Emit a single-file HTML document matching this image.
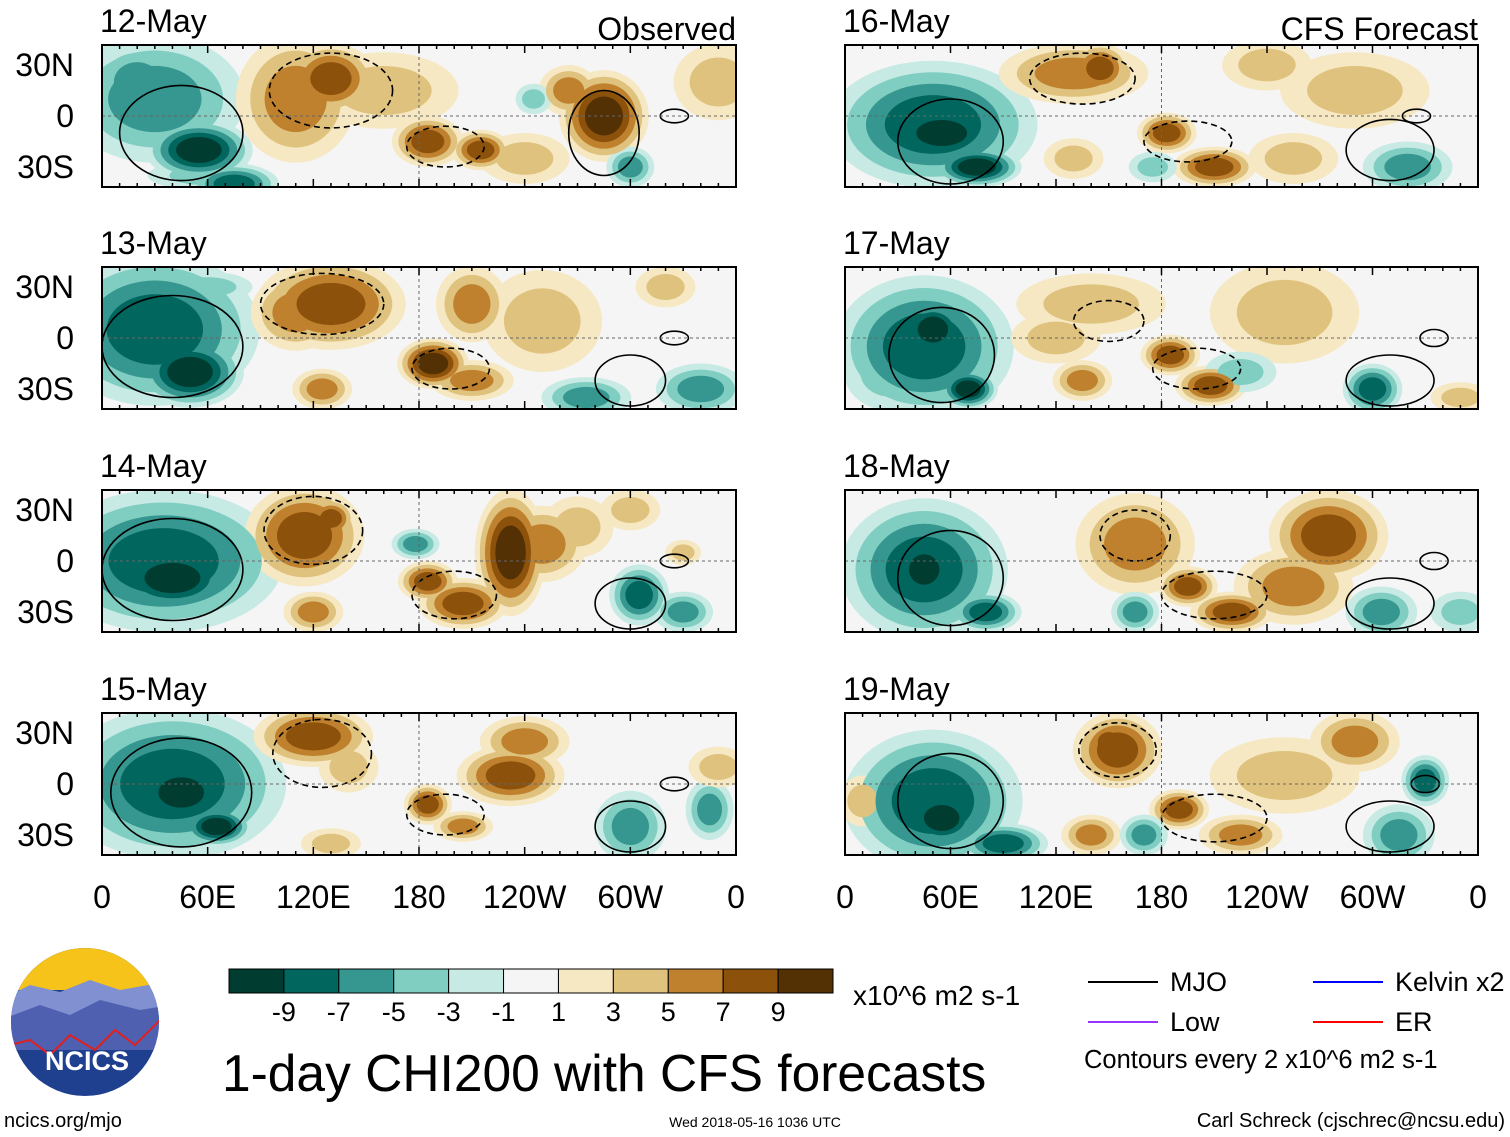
<!DOCTYPE html>
<html><head><meta charset="utf-8"><style>
body{margin:0;background:#fff;width:1510px;height:1137px;overflow:hidden;font-family:"Liberation Sans",Arial,sans-serif}
svg{position:absolute;left:0;top:0}
</style></head><body>
<svg id="chart" width="1510" height="1137" font-family="Liberation Sans, Arial, sans-serif"></svg>
<script>
const dates=["12-May","13-May","14-May","15-May","16-May","17-May","18-May","19-May"];
const levelTicks=[-9,-7,-5,-3,-1,1,3,5,7,9];
const colors=["#003c30","#01665e","#35978f","#80cdc1","#c7eae5","#f5f5f5","#f6e8c3","#dfc27d","#bf812d","#8c510a","#543005"];
const lonTicks=["0","60E","120E","180","120W","60W","0"];
const latTicks=["30N","0","30S"];
const latVals=[30,0,-30];
// blobs: [lon, lat, value, rxDeg, ryDeg]
const blobs0=[[30,10,-5,30,25],[55,-20,-9,18,12],[20,20,-5,15,15],[75,-40,-6,15,8],[110,10,5,20,25],[130,22,7,15,14],[185,-15,6,12,10],[215,-20,6,10,8],[285,0,8,15,18],[265,15,5,10,10],[245,10,-3,6,6],[300,-30,-4,8,8],[160,15,3,25,15],[240,-25,3,15,10],[350,20,2,15,15],[60,-35,-3,20,6]];
const blobs1=[[30,5,-6,35,30],[50,-20,-9,18,14],[130,20,7,25,18],[110,15,5,15,15],[188,-15,8,12,10],[210,-25,5,14,8],[210,20,5,12,15],[250,10,3,20,20],[125,-30,4,10,8],[275,-35,-5,15,8],[340,-30,-5,15,10],[320,30,3,10,8],[60,30,-3,15,6]];
const blobs2=[[35,0,-7,40,28],[40,-10,-9,22,14],[115,15,6,20,20],[130,25,7,8,8],[185,-12,7,10,8],[205,-25,7,15,10],[232,5,8,12,25],[250,10,4,15,15],[270,20,3,12,12],[120,-30,4,10,8],[178,10,-4,8,6],[305,-20,-6,10,12],[330,-30,-4,10,8],[300,30,3,10,8],[330,5,3,6,5]];
const blobs3=[[40,0,-7,38,30],[45,-5,-9,18,14],[65,-25,-9,12,8],[120,28,7,20,12],[232,5,6,18,12],[240,25,4,15,10],[185,-12,6,8,8],[205,-25,5,10,6],[140,10,3,10,10],[130,-35,3,10,6],[300,-25,-5,12,14],[345,-15,-4,8,12],[350,10,3,10,8]];
const blobs4=[[50,-5,-7,35,25],[55,-10,-9,20,12],[75,-30,-9,15,8],[130,25,5,25,12],[145,28,6,10,10],[183,-10,6,10,8],[210,-30,6,14,8],[290,15,3,25,15],[320,-30,-5,15,10],[175,-30,-3,8,6],[240,30,3,15,10],[130,-25,3,10,8],[255,-25,3,15,10]];
const blobs5=[[45,-5,-7,30,28],[50,5,-9,12,12],[70,-30,-9,10,8],[185,-10,7,10,8],[208,-28,6,12,8],[140,20,3,25,12],[120,0,3,15,10],[250,15,3,25,20],[135,-25,4,10,8],[300,-30,-6,10,10],[225,-20,-3,12,8],[350,-35,3,10,6],[25,-20,-3,15,15]];
const blobs6=[[45,-5,-7,28,28],[45,-5,-9,12,14],[80,-30,-6,12,8],[165,10,4,20,20],[195,-15,7,10,8],[220,-30,6,14,8],[275,15,6,20,18],[255,-15,4,20,15],[165,-30,-4,8,8],[305,-30,-5,12,10],[350,-30,-3,10,8]];
const blobs7=[[50,-10,-7,30,28],[55,-20,-9,14,12],[90,-35,-6,15,8],[155,20,6,15,15],[150,25,7,8,8],[190,-15,6,10,8],[225,-30,5,14,8],[290,25,5,15,12],[250,5,3,25,15],[140,-30,4,10,8],[330,2,-6,8,10],[315,-30,-5,12,12],[170,-30,-4,8,8],[10,-10,3,8,10]];
const allBlobs=[blobs0,blobs1,blobs2,blobs3,blobs4,blobs5,blobs6,blobs7];
// contours: [lon, lat, rxDeg, ryDeg, dashed(1)/solid(0)]
const contours0=[[45,-10,35,28,0],[130,15,35,22,1],[195,-18,22,12,1],[285,-10,20,25,0],[325,0,8,4,0]];
const contours1=[[40,-5,40,30,0],[125,20,35,18,1],[198,-18,22,12,1],[300,-25,20,15,0],[325,0,8,4,0]];
const contours2=[[40,-5,40,30,0],[120,18,28,20,1],[200,-20,24,14,1],[300,-25,20,15,0],[325,0,8,4,0]];
const contours3=[[45,-5,40,32,0],[125,18,28,20,1],[195,-18,22,12,1],[300,-25,20,15,0],[325,0,8,4,0]];
const contours4=[[60,-15,30,25,0],[135,22,30,15,1],[195,-15,25,12,1],[310,-20,25,18,0],[325,0,8,4,0]];
const contours5=[[55,-10,30,28,0],[150,10,20,12,1],[200,-18,25,12,1],[310,-25,25,15,0],[335,0,8,5,0]];
const contours6=[[60,-10,30,28,0],[165,15,20,15,1],[210,-20,30,14,1],[310,-25,25,15,0],[335,0,8,5,0]];
const contours7=[[60,-10,30,28,0],[155,20,22,16,1],[210,-20,30,14,1],[310,-25,25,15,0],[330,0,8,5,0]];
const allContours=[contours0,contours1,contours2,contours3,contours4,contours5,contours6,contours7];

const NS="http://www.w3.org/2000/svg";
const svg=document.getElementById('chart');
function el(tag,attrs,parent){const e=document.createElementNS(NS,tag);for(const k in attrs)e.setAttribute(k,attrs[k]);(parent||svg).appendChild(e);return e;}
const tops=[45,267,490,713];
const PH=142, LATPX=51/30, SX=1.7, SY=1.5;
function panelGeom(i){const col=i<4?0:1;const row=i%4;return {x0:col?845:102,w:col?633:634,top:tops[row]};}
for(let i=0;i<8;i++){
  const g=panelGeom(i);
  const yc=g.top+PH/2;
  const X=lon=>g.x0+lon/360*g.w;
  const Y=lat=>yc-lat*LATPX;
  const grp=el('g',{});
  
  
  const cp=el('clipPath',{id:'cp'+i},grp);
  el('rect',{x:g.x0,y:g.top,width:g.w,height:PH},cp);
  el('rect',{x:g.x0,y:g.top,width:g.w,height:PH,fill:'#f5f5f5'},grp);
  const inner=el('g',{'clip-path':'url(#cp'+i+')'},grp);
  const sorted=allBlobs[i].slice();
  for(let lvl=1;lvl<=5;lvl++){
    sorted.forEach(b=>{
      const [lon,lat,v,rx,ry]=b;
      const n=Math.ceil((Math.abs(v)+1)/2);
      if(lvl>n)return;
      const f=1-(lvl-1)/n*0.72;
      const e=el('ellipse',{cx:X(lon),cy:Y(lat),rx:rx*SX*f/360*g.w,ry:ry*SY*f*LATPX,fill:colors[v>0?5+lvl:5-lvl]},inner);
      
      
    });
  }
  allContours[i].forEach(c=>{
    const e=el('ellipse',{cx:X(c[0]),cy:Y(c[1]),rx:c[2]/360*g.w,ry:c[3]*LATPX,fill:'none',stroke:'#000','stroke-width':1.6,'stroke-dasharray':c[4]?'6,4':'none'},inner);
    
    
  });
  el('line',{x1:g.x0,x2:g.x0+g.w,y1:yc,y2:yc,stroke:'#666','stroke-dasharray':'3,3'},grp);
  el('line',{x1:X(180),x2:X(180),y1:g.top,y2:g.top+PH,stroke:'#666','stroke-dasharray':'3,3'},grp);
  el('rect',{x:g.x0,y:g.top,width:g.w,height:PH,fill:'none',stroke:'#000','stroke-width':2},grp);
  for(let l=0;l<=360;l+=10){const t=l%60==0?8:4;
    el('line',{x1:X(l),x2:X(l),y1:g.top,y2:g.top+t,stroke:'#000','stroke-width':1.5},grp);
    el('line',{x1:X(l),x2:X(l),y1:g.top+PH,y2:g.top+PH-t,stroke:'#000','stroke-width':1.5},grp);}
  const dt=el('text',{x:g.x0-2,y:g.top-13,'font-size':32},grp);dt.textContent=dates[i];
  
  if(i<4){latVals.forEach((lv,k)=>{const t=el('text',{x:74,y:Y(lv)+11,'font-size':32,'text-anchor':'end'},grp);t.textContent=latTicks[k];
    });}
  if(i==0||i==4){const t=el('text',{x:g.x0+g.w,y:g.top-5,'font-size':32,'text-anchor':'end'},grp);t.textContent=i==0?'Observed':'CFS Forecast';
    }
  if(i%4==3){lonTicks.forEach((lt,k)=>{const t=el('text',{x:X(k*60),y:908,'font-size':32,'text-anchor':'middle'},grp);t.textContent=lt;
    });}
}
// colorbar
const cb=el('g',{});
const cbx=229,cbw=604/11;
colors.forEach((c,k)=>el('rect',{x:cbx+k*cbw,y:969,width:cbw,height:24,fill:c,stroke:'#000','stroke-width':1},cb));
levelTicks.forEach((v,k)=>{const t=el('text',{x:cbx+(k+1)*cbw,y:1021,'font-size':27,'text-anchor':'middle'},cb);t.textContent=v;});
const u=el('text',{x:853,y:1005,'font-size':28},cb);u.textContent='x10^6 m2 s-1';
const title=el('text',{x:222,y:1091,'font-size':51.5},svg);title.textContent='1-day CHI200 with CFS forecasts';

// legend
const lg=el('g',{'font-size':27});
[[1088,982,'#000','MJO'],[1313,982,'#0000ff','Kelvin x2'],[1088,1022,'#9933ff','Low'],[1313,1022,'#ff0000','ER']].forEach(e=>{
  el('line',{x1:e[0],x2:e[0]+70,y1:e[1],y2:e[1],stroke:e[2],'stroke-width':2},lg);
  const t=el('text',{x:e[0]+82,y:e[1]+9},lg);t.textContent=e[3];});
const ce=el('text',{x:1084,y:1068,'font-size':25.5},lg);ce.textContent='Contours every 2 x10^6 m2 s-1';
const f1=el('text',{x:4,y:1127,'font-size':20});f1.textContent='ncics.org/mjo';

const f2=el('text',{x:755,y:1127,'font-size':14,'text-anchor':'middle'});f2.textContent='Wed 2018-05-16 1036 UTC';
const f3=el('text',{x:1505,y:1127,'font-size':20,'text-anchor':'end'});f3.textContent='Carl Schreck (cjschrec@ncsu.edu)';
// logo
const lo=el('g',{});
const lc=el('clipPath',{id:'lc'},lo);
el('circle',{cx:85,cy:1022,r:74},lc);
const li=el('g',{'clip-path':'url(#lc)'},lo);
el('rect',{x:0,y:940,width:170,height:170,fill:'#1f3f8f'},li);
el('rect',{x:0,y:940,width:170,height:50,fill:'#f6c31a'},li);
el('path',{d:'M0,1000 L30,985 L60,992 L90,980 L120,990 L160,983 L170,1000 L170,1040 L0,1040Z',fill:'#8090d0'},li);
el('path',{d:'M0,1020 L40,1005 L70,1015 L100,1000 L140,1010 L170,1005 L170,1050 L0,1050Z',fill:'#5060b0'},li);
el('path',{d:'M10,1045 L30,1040 L50,1055 L70,1035 L95,1050 L115,1030 L135,1045 L160,1020',fill:'none',stroke:'#e02020','stroke-width':2},li);
const lt=el('text',{x:87,y:1070,'font-size':27,'font-weight':'bold',fill:'#fff','text-anchor':'middle'},lo);lt.textContent='NCICS';
</script>
</body></html>
